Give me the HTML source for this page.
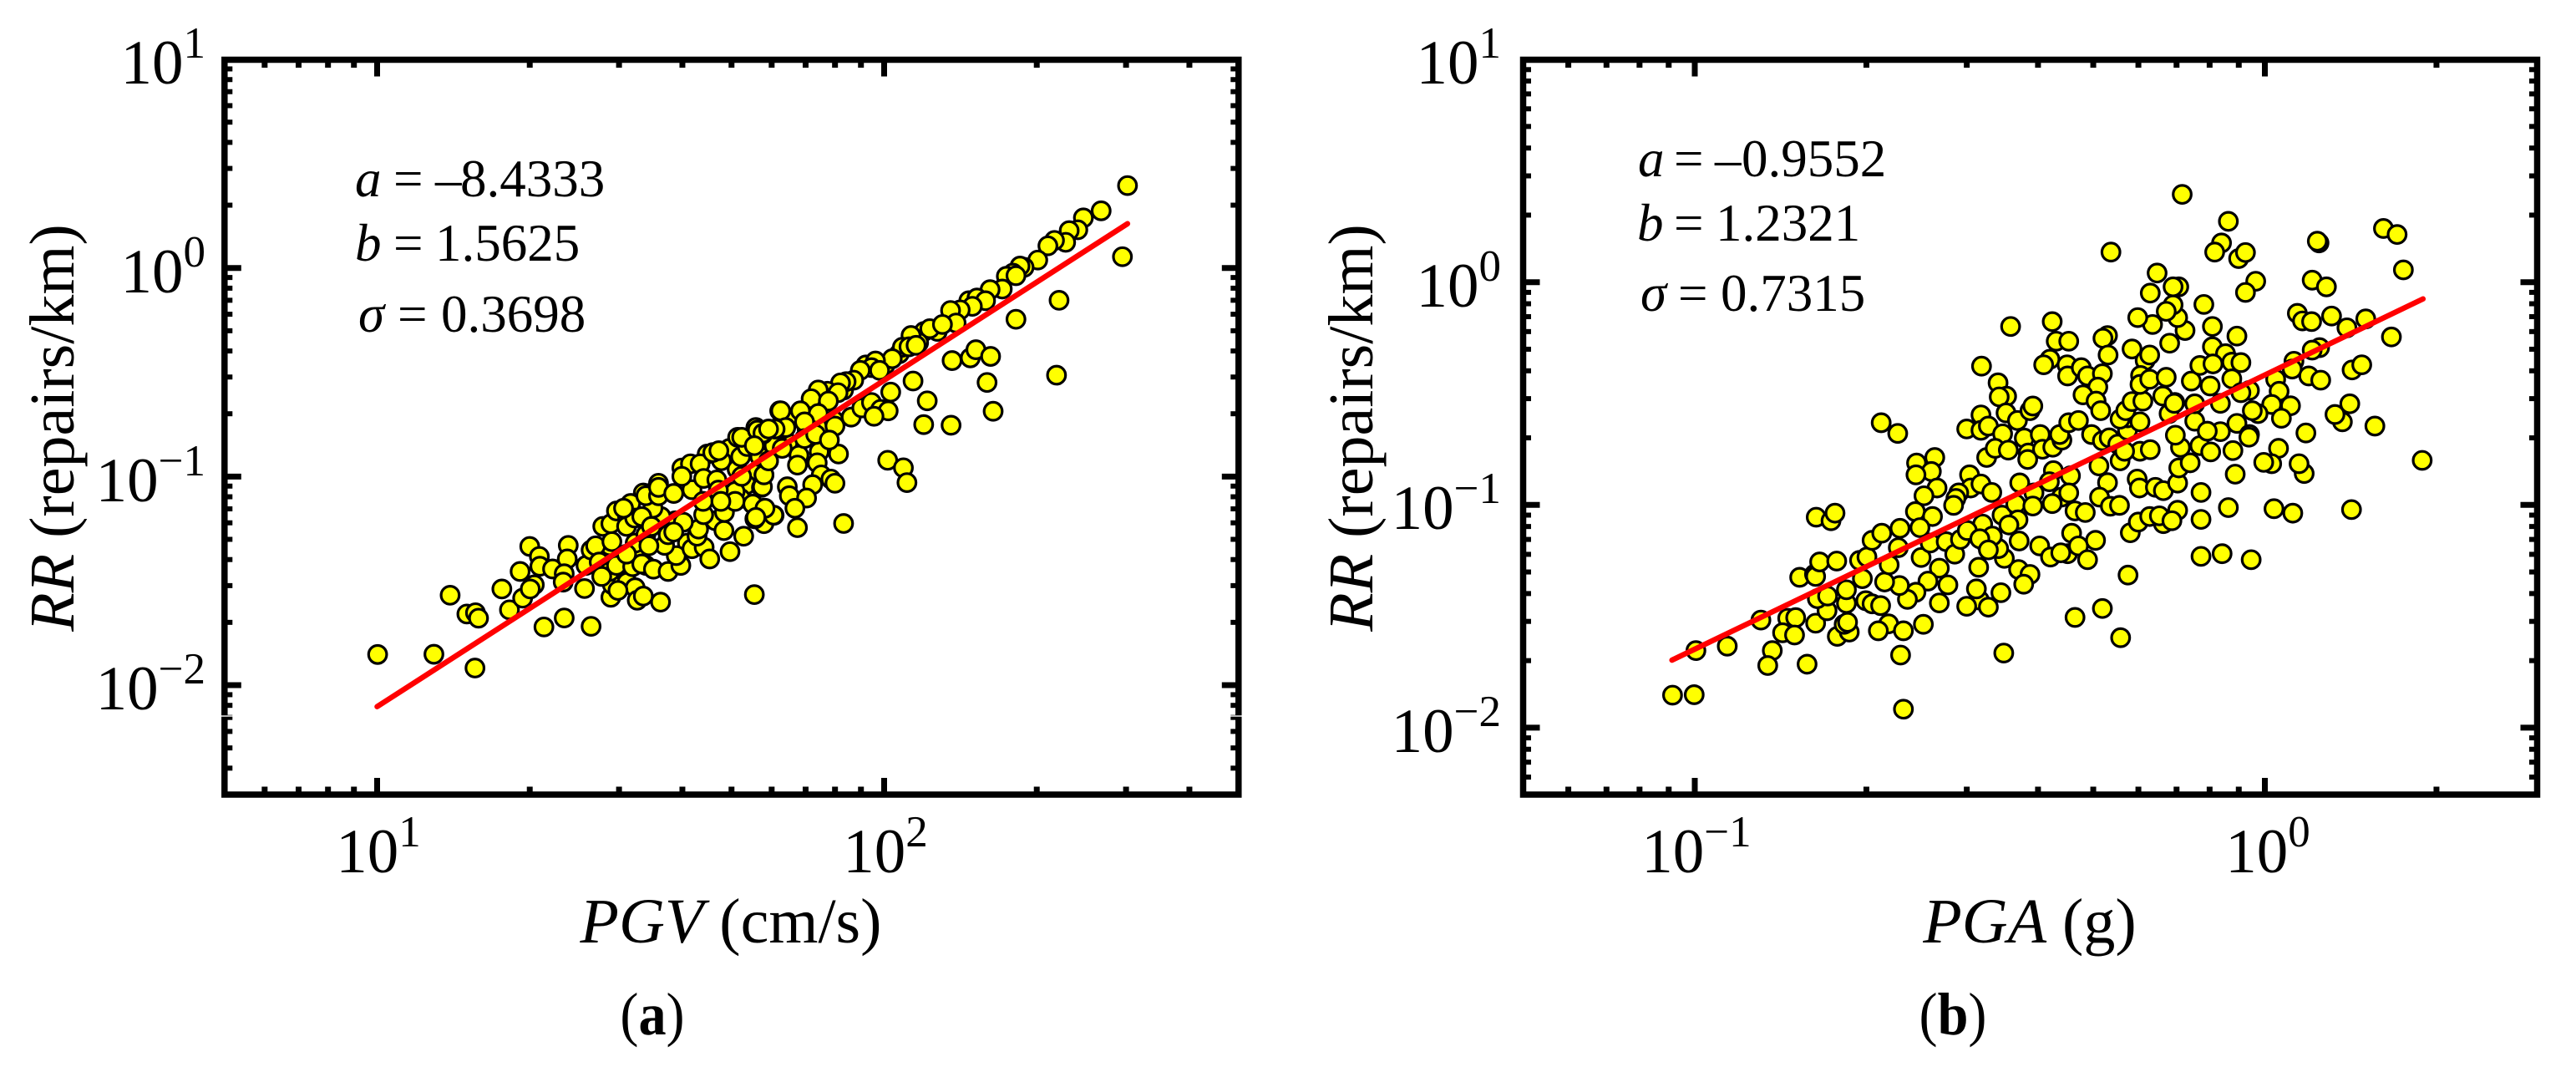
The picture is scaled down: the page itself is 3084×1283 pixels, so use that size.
<!DOCTYPE html>
<html lang="en">
<head>
<meta charset="utf-8">
<title>RR versus PGV and PGA</title>
<style>
html,body{margin:0;padding:0;background:#fff;}
svg{display:block;}
text{font-family:"Liberation Serif",serif;fill:#000;}
.tick-label{font-size:75px;}
.axis-title{font-size:76px;}
.note{font-size:63px;}
.caption{font-size:72px;}
i,.it{font-style:italic;}
</style>
</head>
<body>
<svg id="chart" xmlns="http://www.w3.org/2000/svg" width="3084" height="1283" viewBox="0 0 3084 1283">
<rect x="0" y="0" width="3084" height="1283" fill="#fff"/>

<g id="panel-a">
  <g id="a-points"></g>
  <polyline id="a-fit" fill="none" stroke="#ff0000" stroke-width="6.5" stroke-linecap="round"/>
  <g id="a-ticks"></g>
  <rect x="268.8" y="71.5" width="1214" height="879.5" fill="none" stroke="#000" stroke-width="7.5"/>
  <rect x="264" y="856.3" width="1224" height="1.4" fill="#fff"/>
  <text class="tick-label" x="246" y="100" text-anchor="end">10<tspan font-size="53" dy="-31">1</tspan></text>
  <text class="tick-label" x="246" y="350" text-anchor="end">10<tspan font-size="53" dy="-31">0</tspan></text>
  <text class="tick-label" x="246" y="600" text-anchor="end">10<tspan font-size="53" dy="-31">−1</tspan></text>
  <text class="tick-label" x="246" y="849" text-anchor="end">10<tspan font-size="53" dy="-31">−2</tspan></text>
  <text class="tick-label" x="453" y="1044" text-anchor="middle">10<tspan font-size="53" dy="-31">1</tspan></text>
  <text class="tick-label" x="1060" y="1044" text-anchor="middle">10<tspan font-size="53" dy="-31">2</tspan></text>
  <text class="axis-title" transform="translate(88 512) rotate(-90)" text-anchor="middle"><tspan class="it">RR</tspan> (repairs/km)</text>
  <text class="axis-title" x="875" y="1128" text-anchor="middle"><tspan class="it">PGV</tspan> (cm/s)</text>
  <text class="note" y="235"><tspan class="it" x="425">a</tspan><tspan x="471">=</tspan><tspan x="521">–</tspan><tspan x="551">8.4333</tspan></text>
  <text class="note" y="312"><tspan class="it" x="425">b</tspan><tspan x="471">=</tspan><tspan x="521">1.5625</tspan></text>
  <text class="note" y="397"><tspan class="it" x="429">σ</tspan><tspan x="476">=</tspan><tspan x="528">0.3698</tspan></text>
  <text class="caption" transform="translate(781 1238) scale(0.92 1)" text-anchor="middle">(<tspan font-weight="bold">a</tspan>)</text>
</g>

<g id="panel-b">
  <g id="b-points"></g>
  <polyline id="b-fit" fill="none" stroke="#ff0000" stroke-width="6.5" stroke-linecap="round"/>
  <g id="b-ticks"></g>
  <rect x="1823.5" y="71.5" width="1214" height="879.5" fill="none" stroke="#000" stroke-width="7.5"/>
  <text class="tick-label" x="1797" y="100" text-anchor="end">10<tspan font-size="53" dy="-31">1</tspan></text>
  <text class="tick-label" x="1797" y="367" text-anchor="end">10<tspan font-size="53" dy="-31">0</tspan></text>
  <text class="tick-label" x="1797" y="633" text-anchor="end">10<tspan font-size="53" dy="-31">−1</tspan></text>
  <text class="tick-label" x="1797" y="900" text-anchor="end">10<tspan font-size="53" dy="-31">−2</tspan></text>
  <text class="tick-label" x="2031" y="1044" text-anchor="middle">10<tspan font-size="53" dy="-31">−1</tspan></text>
  <text class="tick-label" x="2715" y="1044" text-anchor="middle">10<tspan font-size="53" dy="-31">0</tspan></text>
  <text class="axis-title" transform="translate(1643 512) rotate(-90)" text-anchor="middle"><tspan class="it">RR</tspan> (repairs/km)</text>
  <text class="axis-title" x="2430" y="1128" text-anchor="middle"><tspan class="it">PGA</tspan> (g)</text>
  <text class="note" y="211"><tspan class="it" x="1961">a</tspan><tspan x="2004">=</tspan><tspan x="2053">–</tspan><tspan x="2085">0.9552</tspan></text>
  <text class="note" y="288"><tspan class="it" x="1960">b</tspan><tspan x="2004">=</tspan><tspan x="2054">1.2321</tspan></text>
  <text class="note" y="372"><tspan class="it" x="1964">σ</tspan><tspan x="2009">=</tspan><tspan x="2060">0.7315</tspan></text>
  <text class="caption" transform="translate(2338 1238) scale(0.92 1)" text-anchor="middle">(<tspan font-weight="bold">b</tspan>)</text>
</g>
</svg>

<script>
// Panel (a): log10 of PGV (cm/s) and log10 of RR (repairs/km)
const pgvLog10 = [
1.555,1.541,1.525,1.601,1.618,1.651,1.695,1.711,1.747,1.772,
1.750,1.728,1.717,1.689,1.475,1.530,1.612,1.667,1.508,1.459,
1.755,1.783,1.810,1.848,1.887,1.821,1.920,1.964,2.002,2.030,
2.079,2.167,
1.001,1.112,1.193,1.144,1.177,1.194,1.200,1.246,1.261,1.287,
1.310,1.302,1.282,1.301,1.320,1.321,1.346,1.377,1.375,1.369,
1.367,1.329,1.369,1.422,1.409,1.412,1.422,1.431,1.438,1.445,
1.461,1.463,1.472,1.500,1.494,1.492,1.509,1.461,1.464,1.459,
1.443,1.472,1.493,1.509,1.513,1.525,1.504,1.522,1.545,1.559,
1.574,1.599,1.590,1.567,1.621,1.645,1.656,1.631,1.634,1.644,
1.696,1.684,1.685,1.723,1.763,1.745,1.783,1.763,1.744,1.588,
1.604,1.574,1.560,1.544,1.530,1.555,1.555,1.585,1.621,1.601,
1.637,1.644,1.670,1.679,1.662,1.674,1.710,1.717,1.730,1.719,
1.761,1.750,1.785,1.799,1.794,1.706,1.758,1.763,1.772,1.719,
1.706,1.741,1.673,1.643,1.678,1.530,1.536,1.508,1.522,1.541,
1.585,1.492,1.475,1.486,
2.480,2.428,2.393,2.382,2.365,2.358,2.336,2.323,2.303,2.276,
2.268,2.254,2.241,2.260,2.233,2.209,2.183,2.200,2.174,2.150,
2.131,2.142,2.105,2.090,2.115,2.068,2.053,2.036,2.049,2.063,
2.016,1.983,1.975,1.991,1.953,1.940,1.925,1.914,1.888,1.909,
1.870,1.856,1.890,1.835,1.796,1.870,1.843,1.806,1.785,1.761,
1.772,1.901,1.903,1.935,1.956,1.975,1.993,2.008,1.980,2.013,
2.057,2.085,2.078,2.132,2.203,2.215,2.340,2.260,2.345,2.470,
2.134,2.170,2.181,2.210,2.007,2.038,2.045,1.910,1.872,1.832,
1.829,1.868,1.876,1.895,1.903,1.859,1.809,1.813,1.847,1.824,
1.782,1.765,1.747,1.760,1.763,1.920,1.829,1.772,1.843,1.865,
1.892,1.799,1.744
];
const rrLog10A = [
-1.032,-1.079,-1.079,-0.959,-0.939,-0.892,-0.865,-0.812,-0.765,-0.812,
-0.985,-1.039,-1.105,-1.119,-1.493,-1.426,-1.319,-1.212,-1.372,-1.332,
-0.905,-0.852,-0.838,-0.771,-0.771,-0.718,-0.585,-0.465,-0.465,-0.411,
-0.304,-0.157,
-1.853,-1.852,-1.918,-1.569,-1.659,-1.653,-1.679,-1.539,-1.639,-1.583,
-1.519,-1.539,-1.455,-1.335,-1.383,-1.430,-1.443,-1.330,-1.395,-1.466,
-1.506,-1.721,-1.678,-1.718,-1.537,-1.426,-1.352,-1.332,-1.410,-1.239,
-1.226,-1.312,-1.165,-1.129,-1.192,-1.239,-1.319,-1.579,-1.519,-1.455,
-1.479,-1.426,-1.507,-1.533,-1.593,-1.573,-1.432,-1.419,-1.444,-1.602,
-1.455,-1.426,-1.379,-1.330,-1.346,-1.339,-1.395,-1.286,-1.252,-1.183,
-1.360,-1.259,-1.172,-1.286,-1.226,-1.203,-1.186,-1.152,-1.566,-1.212,
-1.219,-1.279,-1.192,-1.152,-1.092,-1.092,-1.052,-1.081,-1.063,-0.999,
-0.939,-1.009,-1.016,-0.924,-0.885,-0.876,-0.965,-0.905,-0.856,-0.812,
-0.796,-0.778,-0.772,-0.772,-0.685,-1.072,-1.052,-0.992,-0.925,-0.999,
-1.119,-1.132,-1.065,-1.119,-1.119,-1.279,-1.332,-1.199,-1.192,-1.239,
-1.266,-1.372,-1.546,-1.152,
0.395,0.274,0.240,0.183,0.179,0.123,0.132,0.106,0.038,0.003,
0.009,-0.025,-0.040,-0.037,-0.101,-0.104,-0.144,-0.157,-0.184,-0.201,
-0.204,-0.264,-0.304,-0.291,-0.271,-0.358,-0.324,-0.380,-0.378,-0.371,
-0.435,-0.446,-0.478,-0.491,-0.491,-0.538,-0.545,-0.551,-0.591,-0.598,
-0.585,-0.627,-0.638,-0.685,-0.685,-0.698,-0.738,-0.765,-0.772,-0.792,
-0.772,-0.731,-0.758,-0.715,-0.671,-0.645,-0.678,-0.685,-0.711,-0.595,
-0.542,-0.637,-0.751,-0.754,-0.549,-0.687,-0.514,-0.246,-0.155,0.054,
-0.444,-0.431,-0.392,-0.424,-0.922,-0.958,-1.029,-0.892,-0.881,-0.898,
-0.945,-0.934,-0.992,-1.012,-1.032,-1.039,-1.049,-1.092,-1.103,-1.152,
-1.185,-1.152,-1.196,-1.049,-0.992,-1.225,-1.245,-0.925,-0.818,-0.798,
-0.825,-0.865,-0.852
];
const fitPgv = [10, 302];
const fitRrA = [0.00789, 1.63];

// Panel (b): log10 of PGA (g) and log10 of RR (repairs/km)
const pgaLog10 = [
-1.039,-1.001,-0.998,-0.943,-0.884,-0.837,-0.823,-0.788,-0.846,-0.825,
-0.864,-0.872,-0.803,-0.750,-0.729,-0.738,-0.732,-0.816,-0.790,-0.788,
-0.781,-0.751,-0.787,-0.761,-0.754,-0.768,-0.785,-0.767,-0.734,-0.734,
-0.700,-0.706,-0.689,-0.639,-0.634,-0.711,-0.698,-0.689,
-0.673,-0.644,-0.497,-0.468,-0.453,-0.466,-0.498,-0.523,-0.498,-0.485,
-0.454,-0.434,-0.412,-0.407,-0.460,-0.488,-0.473,-0.450,-0.518,-0.516,
-0.498,-0.537,-0.542,-0.546,-0.611,-0.579,-0.585,-0.612,-0.575,-0.598,
-0.613,-0.583,-0.605,-0.640,-0.672,-0.643,-0.603,-0.571,-0.587,-0.559,
-0.544,-0.534,-0.495,-0.522,-0.479,-0.461,-0.437,-0.433,-0.449,-0.431,
-0.432,-0.412,-0.423,-0.502,-0.457,-0.467,-0.488,-0.478,-0.500,-0.485,
-0.422,-0.394,-0.415,-0.390,-0.372,-0.356,-0.360,-0.344,-0.327,-0.416,
-0.430,-0.405,-0.407,-0.371,-0.378,-0.357,-0.373,-0.341,-0.344,-0.333,
-0.315,-0.339,-0.395,-0.376,-0.346,-0.358,-0.327,-0.297,-0.311,-0.304,
-0.285,-0.273,-0.258,-0.241,-0.241,-0.254,-0.244,-0.233,-0.214,-0.219,
-0.219,-0.254,-0.246,-0.291,-0.276,-0.290,-0.271,-0.255,-0.224,-0.220,
-0.192,-0.178,-0.153,-0.151,-0.131,-0.148,-0.157,-0.114,-0.123,-0.158,
-0.168,-0.123,-0.201,-0.236,-0.222,-0.202,-0.178,-0.185,-0.153,-0.163,
-0.112,-0.112,-0.112,-0.240,-0.285,-0.333,-0.253,-0.463,-0.501,-0.506,
-0.485,-0.523,-0.571,-0.556,-0.591,-0.612,-0.627,-0.641,-0.667,-0.659,
-0.674,-0.660,-0.634,-0.599,-0.678,-0.458,-0.366,-0.344,-0.373,-0.446,
-0.377,-0.388,-0.347,-0.346,-0.322,-0.311,-0.285,-0.293,-0.319,-0.296,
-0.288,-0.276,-0.284,-0.275,-0.233,-0.210,-0.202,-0.218,-0.219,-0.202,
-0.173,-0.167,-0.140,-0.197,-0.153,-0.129,-0.179,-0.159,-0.114,-0.223,
-0.145,-0.189,-0.201,-0.151,-0.161,-0.161,-0.173,-0.107,-0.064,-0.076,
-0.088,-0.046,-0.034,-0.016,-0.034,0.095,0.092,0.083,0.108,0.208,
0.232,0.243,-0.092,-0.049,-0.092,-0.069,-0.058,-0.042,-0.091,-0.096,
-0.058,0.057,0.066,0.082,0.117,0.144,0.177,0.222,0.096,0.083,
0.051,0.048,0.077,0.098,0.019,0.025,-0.027,-0.042,-0.078,0.012,
0.045,0.029,-0.012,-0.022,-0.049,-0.078,-0.101,-0.095,-0.056,-0.027,
-0.028,0.024,0.012,-0.002,0.069,0.060,-0.052,-0.064,0.016,0.049,
0.152,0.136,0.123,0.149,0.153,0.170,0.193,0.276,0.072,-0.075,
-0.024,-0.270
];
const rrLog10B = [
-1.854,-1.852,-1.654,-1.634,-1.517,-1.509,-1.506,-1.531,-1.574,-1.584,
-1.654,-1.721,-1.715,-1.590,-1.571,-1.536,-1.527,-1.325,-1.311,-1.321,
-1.256,-1.252,-1.055,-1.071,-1.037,-1.475,-1.421,-1.409,-1.442,-1.381,
-1.430,-1.331,-1.444,-1.674,-1.917,-1.249,-1.234,-1.159,
-0.631,-0.679,-0.377,-0.452,-0.512,-0.515,-0.596,-0.659,-0.665,-0.646,
-0.587,-0.621,-0.577,-0.556,-0.681,-0.787,-0.746,-0.754,-0.865,-0.924,
-0.906,-0.946,-0.971,-1.002,-0.812,-0.787,-0.850,-0.865,-0.924,-0.959,
-1.030,-1.052,-1.102,-1.105,-1.127,-1.192,-1.236,-1.284,-1.171,-1.165,
-1.221,-1.155,-1.086,-1.115,-0.944,-1.046,-0.996,-1.067,-1.090,-1.162,
-1.290,-1.312,-1.356,-1.280,-1.240,-1.196,-1.177,-1.140,-1.152,-1.202,
-0.700,-0.684,-0.767,-0.750,-0.741,-0.709,-0.684,-0.631,-0.621,-0.796,
-0.901,-0.946,-1.005,-0.846,-0.896,-0.965,-0.994,-0.869,-0.946,-1.027,
-1.034,-1.127,-1.184,-1.234,-1.219,-1.215,-1.184,-1.159,-1.246,-0.684,
-0.712,-0.699,-0.727,-0.665,-0.609,-0.615,-0.577,-0.536,-0.534,-0.627,
-0.759,-0.802,-0.759,-0.825,-0.900,-0.965,-1.006,-1.002,-0.884,-0.924,
-0.921,-0.936,-0.902,-0.834,-0.811,-0.742,-0.687,-0.734,-0.624,-0.540,
-0.590,-0.546,-0.752,-1.125,-1.077,-1.052,-1.084,-1.049,-1.024,-1.071,
-0.944,-1.065,-1.231,-1.315,-1.465,-1.505,-1.596,-1.394,-1.427,-1.377,
-1.459,-1.455,-1.440,-1.359,-1.342,-1.392,-1.424,-1.362,-1.346,-1.269,
-1.452,-1.534,-1.565,-1.536,-1.565,-1.665,-0.265,-0.265,-0.177,-0.199,
-0.346,-0.371,-0.371,-0.421,-0.384,-0.421,-0.411,-0.471,-0.506,-0.534,
-0.577,-0.240,-0.252,-0.327,-0.300,-0.352,-0.327,-0.419,-0.459,-0.436,
-0.427,-0.274,-0.217,-0.190,-0.159,-0.444,-0.511,-0.544,-0.374,-0.159,
0.394,0.041,-0.049,-0.021,-0.021,-0.102,-0.131,-0.100,0.273,0.176,
0.135,0.106,0.133,0.004,-0.046,0.176,0.184,0.009,-0.021,0.241,
0.214,0.055,-0.199,-0.242,-0.290,-0.321,-0.359,-0.361,-0.367,-0.466,
-0.434,-0.140,-0.174,-0.177,-0.152,-0.205,-0.165,-0.246,-0.294,-0.305,
-0.355,-0.390,-0.421,-0.440,-0.436,-0.490,-0.486,-0.496,-0.544,-0.549,
-0.555,-0.611,-0.590,-0.577,-0.634,-0.671,-0.669,-0.762,-0.756,-0.684,
-0.696,-0.746,-0.815,-0.809,-0.859,-0.815,-0.862,-1.012,-1.017,-1.037,
-1.021,-0.627,-0.594,-0.546,-0.394,-0.371,-0.646,-0.800,-0.677,-1.219,
-1.246,0.135
];
const fitPga = [0.0912, 1.894];
const fitRrB = [0.0201, 0.841];

// Tick values (major decades; minor ticks at 2..9 times each decade, clipped to the axis range)
const aXDecades = [0, 1, 2, 3];
const aYDecades = [-3, -2, -1, 0, 1];
const bXDecades = [-2, -1, 0, 1];
const bYDecades = [-3, -2, -1, 0, 1];
const minorMultipliers = [2, 3, 4, 5, 6, 7, 8, 9];

const SVGNS = 'http://www.w3.org/2000/svg';

// Axis functions: log-scale mapping of a decade exponent to page coordinates
const aXDec = d => 451.5 + 607 * (d - 1);
const aYDec = d => 320.7 - 249.65 * d;
const bXDec = d => 2711.5 + 682.5 * d;
const bYDec = d => 337.7 - 266.6 * d;

const panelA = {
  xDec: aXDec, yDec: aYDec, left: 268.8, right: 1482.8, top: 71.5, bottom: 951,
  xDecades: aXDecades, yDecades: aYDecades, ticks: 'a-ticks',
  xMin: 5, xMax: 500, yMin: 0.003, yMax: 10
};
const panelB = {
  xDec: bXDec, yDec: bYDec, left: 1823.5, right: 3037.5, top: 71.5, bottom: 951,
  xDecades: bXDecades, yDecades: bYDecades, ticks: 'b-ticks',
  xMin: 0.05, xMax: 3, yMin: 0.005, yMax: 10
};

function drawPoints(groupId, xs, ys, xDec, yDec) {
  const group = document.getElementById(groupId);
  const n = Math.min(xs.length, ys.length);
  for (let i = 0; i < n; i++) {
    const el = document.createElementNS(SVGNS, 'circle');
    
    
    el.setAttribute('cx', xDec(xs[i]));
    el.setAttribute('cy', yDec(ys[i]));
    el.setAttribute('r', 10.8);
    el.setAttribute('fill', '#ffff00');
    el.setAttribute('stroke', '#000');
    el.setAttribute('stroke-width', 3.2);
    group.appendChild(el);
  }
}

function drawFit(lineId, xs, ys, xDec, yDec) {
  const pts = xs.map((v, i) => xDec(Math.log10(v)) + ',' + yDec(Math.log10(ys[i]))).join(' ');
  document.getElementById(lineId).setAttribute('points', pts);
}

function tickSegment(parent, x1, y1, x2, y2, width) {
  const el = document.createElementNS(SVGNS, 'line');
  
  
  el.setAttribute('x1', x1);
  el.setAttribute('y1', y1);
  el.setAttribute('x2', x2);
  el.setAttribute('y2', y2);
  el.setAttribute('stroke', '#000');
  el.setAttribute('stroke-width', width);
  parent.appendChild(el);
}

function drawTicks(p) {
  const g = document.getElementById(p.ticks);
  const MAJOR = 20, MINOR = 9.5;
  const xTick = (v, len, w) => {
    const x = p.xDec(Math.log10(v));
    tickSegment(g, x, p.bottom, x, p.bottom - len, w);
    tickSegment(g, x, p.top, x, p.top + len, w);
  };
  const yTick = (v, len, w) => {
    const y = p.yDec(Math.log10(v));
    tickSegment(g, p.left, y, p.left + len, y, w);
    tickSegment(g, p.right, y, p.right - len, y, w);
  };
  p.xDecades.forEach(d => {
    const base = Math.pow(10, d);
    if (base > p.xMin && base < p.xMax) xTick(base, MAJOR, 7);
    minorMultipliers.forEach(m => {
      const v = m * base;
      if (v > p.xMin * 1.001 && v < p.xMax * 0.999) xTick(v, MINOR, 7);
    });
  });
  p.yDecades.forEach(d => {
    const base = Math.pow(10, d);
    if (base > p.yMin && base < p.yMax) yTick(base, MAJOR, 7);
    minorMultipliers.forEach(m => {
      const v = m * base;
      if (v > p.yMin * 1.001 && v < p.yMax * 0.999) yTick(v, MINOR, 6);
    });
  });
}

drawPoints('a-points', pgvLog10, rrLog10A, aXDec, aYDec);
drawPoints('b-points', pgaLog10, rrLog10B, bXDec, bYDec);
drawFit('a-fit', fitPgv, fitRrA, aXDec, aYDec);
drawFit('b-fit', fitPga, fitRrB, bXDec, bYDec);
drawTicks(panelA);
drawTicks(panelB);
</script>
</body>
</html>
